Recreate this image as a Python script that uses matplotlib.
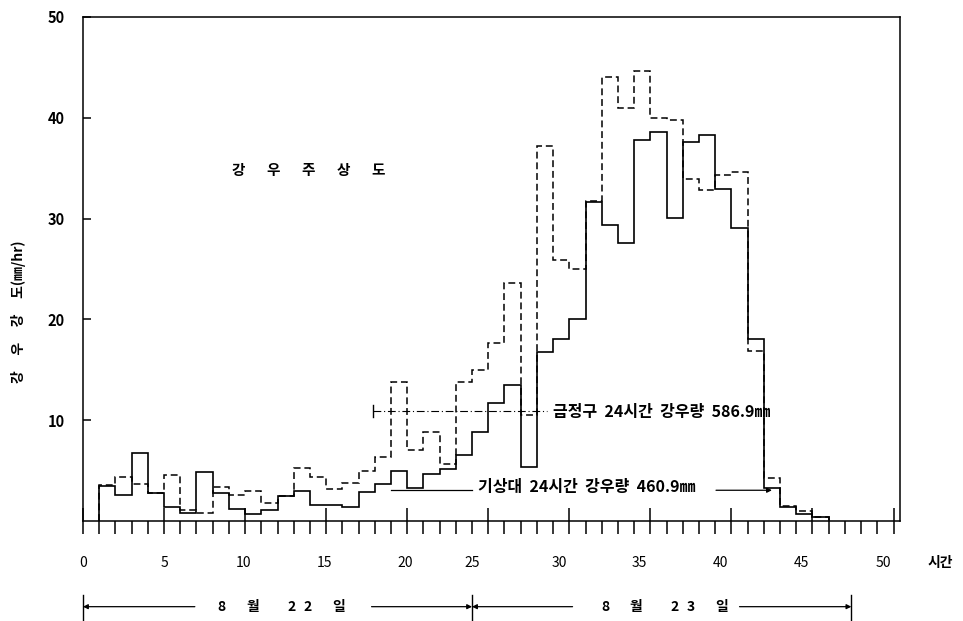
import matplotlib
matplotlib.use("Agg")
import matplotlib.pyplot as plt

plt.rcParams['font.family'] = ['Noto Sans CJK KR', 'DejaVu Sans']

# hourly rainfall intensity (mm/hr), step edges at hour 1 .. 46
hours = list(range(1, 47))
gisangdae = [3.5, 2.55, 6.7, 2.8, 1.4, 0.8, 4.85, 2.75, 1.15, 0.7,
             1.1, 2.5, 2.95, 1.6, 1.55, 1.35, 2.9, 3.7, 5.0, 3.3,
             4.7, 5.15, 6.5, 8.85, 11.7, 13.5, 5.4, 16.8, 18.1, 20.0,
             31.6, 29.4, 27.6, 37.8, 38.6, 30.1, 37.6, 38.3, 32.9, 29.1,
             18.1, 3.3, 1.4, 0.7, 0.4]
geumjeong = [3.55, 4.35, 3.7, 2.8, 4.6, 1.05, 0.8, 3.35, 2.6, 3.0,
             1.8, 2.5, 5.3, 4.4, 3.2, 3.75, 5.0, 6.3, 13.8, 7.0,
             8.8, 5.7, 13.8, 15.0, 17.7, 23.6, 10.5, 37.2, 25.9, 25.0,
             31.7, 44.0, 41.0, 44.6, 40.0, 39.8, 33.9, 32.8, 34.3, 34.6,
             16.9, 4.3, 1.5, 1.0, 0.4]

x_labels = [0, 5, 10, 15, 20, 25, 30, 35, 40, 45, 50]
x_label_pos = [0, 5, 9.9, 14.9, 19.9, 24, 29.4, 34.3, 39.3, 44.3, 49.4]
y_ticks = [10, 20, 30, 40, 50]

title = "강우주상도"
day1 = ["8", "월", "2", "2", "일"]
day2 = ["8", "월", "2", "3", "일"]
total_geumjeong = "금정구  24시간  강우량  586.9㎜"
total_gisangdae = "기상대  24시간  강우량  460.9㎜"

fig = plt.figure(figsize=(9.63, 6.21), dpi=100)
ax = fig.add_axes([83 / 963, 1 - 521 / 621, 817 / 963, 504 / 621])
ax.set_xlim(0, 50.4)
ax.set_ylim(0, 50)

ax.stairs(geumjeong, hours, baseline=0, color='black', lw=1.1,
          ls=(0, (4.5, 2.5)))
ax.stairs(gisangdae, hours, baseline=0, color='black', lw=1.2)

for s in ax.spines.values():
    s.set_linewidth(1.1)

# x ticks: every hour below the base line, longer every 5 hours
ax.set_xticks(range(0, 51, 5))
ax.set_xticks(range(1, 51), minor=True)
ax.tick_params(axis='x', which='minor', direction='out', length=9.5, width=1.1)
ax.tick_params(axis='x', which='major', direction='inout', length=19,
               width=1.1, labelbottom=False)
ax.set_yticks(y_ticks)
ax.set_yticklabels([str(v) for v in y_ticks], fontweight='bold')
ax.tick_params(axis='y', direction='in', length=6, width=1.1, pad=13,
               labelsize=10.5)

for v, p in zip(x_labels, x_label_pos):
    ax.text(p, -4.2, str(v), ha='center', va='center', fontsize=10,
            clip_on=False)
ax.text(52.9, -4.2, "시간", ha='center', va='center', fontsize=10,
        fontweight='bold', clip_on=False)

ax.text(-3.95, 20.8, "강     우     강     도(㎜/hr)", rotation=90,
        ha='center', va='center', fontsize=10, fontweight='bold',
        clip_on=False)

for i, ch in enumerate(title):
    ax.text(9.55 + i * 2.17, 34.8, ch, ha='center', va='center',
            fontsize=10.5, fontweight='bold')

# 24h totals
ax.plot([17.9, 17.9], [10.3, 11.5], color='black', lw=1)
ax.plot([17.9, 28.6], [10.9, 10.9], color='black', lw=0.8,
        ls=(0, (7, 2.5, 1, 2.5)))
ax.text(29.0, 10.8, total_geumjeong, ha='left', va='center', fontsize=11.5,
        fontweight='bold')

ax.plot([19.0, 24.0], [3.05, 3.05], color='black', lw=0.9)
ax.annotate('', xy=(42.5, 3.05), xytext=(39.05, 3.05),
            arrowprops=dict(arrowstyle='-|>', color='black', lw=0.9,
                            mutation_scale=7, shrinkA=0, shrinkB=0))
ax.text(24.35, 3.35, total_gisangdae, ha='left', va='center', fontsize=11.5,
        fontweight='bold')

# date row
yd = -8.5
for xb in [0, 24, 47.4]:
    ax.plot([xb, xb], [-7.3, -9.9], color='black', lw=1, clip_on=False)
arrow = dict(arrowstyle='-|>', color='black', lw=0.9, mutation_scale=7,
             shrinkA=0, shrinkB=0)
for tip, tail in [(0, 6.9), (24, 17.8), (24, 30.2), (47.4, 40.5)]:
    ax.annotate('', xy=(tip, yd), xytext=(tail, yd), arrowprops=arrow,
                annotation_clip=False)
offsets = [0, 1.9, 4.3, 5.3, 7.2]
for start, chars in [(8.55, day1), (32.2, day2)]:
    for off, ch in zip(offsets, chars):
        ax.text(start + off, yd, ch, ha='center', va='center', fontsize=10,
                fontweight='bold', clip_on=False)

fig.savefig("out.png", dpi=100)
